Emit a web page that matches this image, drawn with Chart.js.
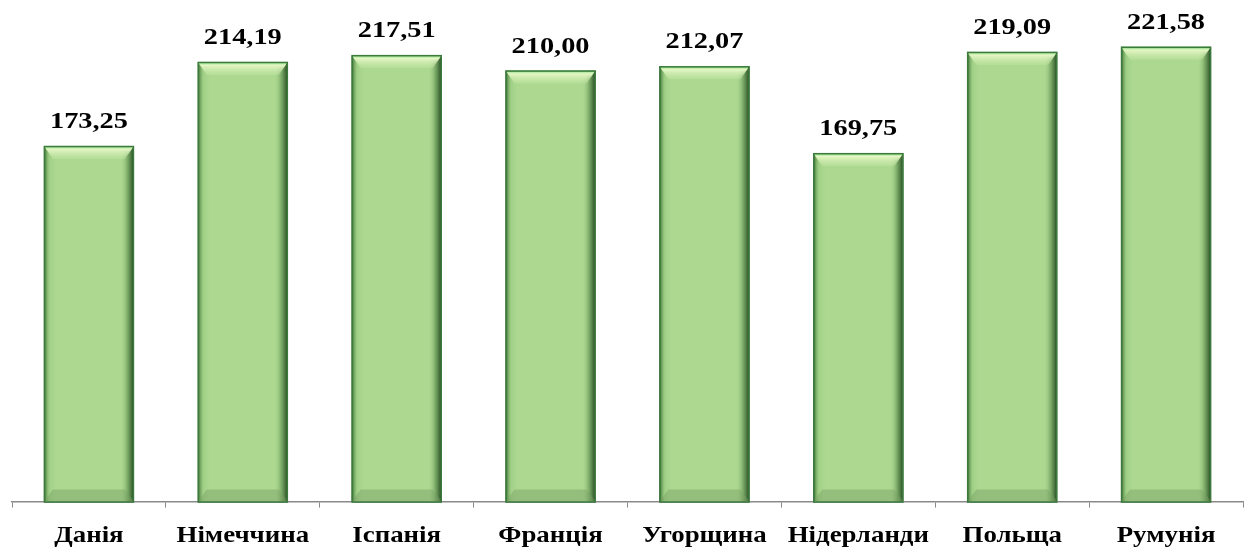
<!DOCTYPE html>
<html>
<head>
<meta charset="utf-8">
<script src="https://cdn.jsdelivr.net/npm/chart.js@4.4.1/dist/chart.umd.min.js"></script>
<style>
  html, body { margin: 0; padding: 0; background: #fff; }
  #wrap { width: 1251px; height: 550px; }
</style>
</head>
<body>
<div id="wrap"><canvas id="c"></canvas></div>
<script>
// Дані діаграми
const countries = ['Данія', 'Німеччина', 'Іспанія', 'Франція', 'Угорщина', 'Нідерланди', 'Польща', 'Румунія'];
const values = [173.25, 214.19, 217.51, 210.00, 212.07, 169.75, 219.09, 221.58];

const fmt = (v) => v.toFixed(2).replace('.', ',');
const SERIF = "'Liberation Serif', 'Times New Roman', serif";

// текст в оригіналі трохи розтягнутий по горизонталі
function stretchedText(ctx, text, x, y, k) {
  ctx.save();
  ctx.translate(x, y);
  ctx.scale(k, 1);
  ctx.fillText(text, 0, 0);
  ctx.restore();
}

// об'ємний вигляд стовпчиків + підписи
const bevelPlugin = {
  id: 'bevel',
  afterDatasetsDraw(chart) {
    const ctx = chart.ctx;
    chart.getDatasetMeta(0).data.forEach((bar) => {
      const { x, y, base, width } = bar.getProps(['x', 'y', 'base', 'width'], true);
      const l = x - width / 2, r = x + width / 2;
      const b = 9;
      ctx.save();
      // бічні тіні
      const g = ctx.createLinearGradient(l, 0, r, 0);
      g.addColorStop(0, 'rgba(30,80,30,0.85)');
      g.addColorStop(0.06, 'rgba(120,180,100,0.25)');
      g.addColorStop(0.15, 'rgba(170,216,144,0)');
      g.addColorStop(0.85, 'rgba(170,216,144,0)');
      g.addColorStop(0.93, 'rgba(60,110,50,0.45)');
      g.addColorStop(1, 'rgba(25,60,25,0.95)');
      ctx.fillStyle = g;
      ctx.fillRect(l, y, width, base - y);
      // верхня фаска
      const gt = ctx.createLinearGradient(0, y, 0, y + b + 4);
      gt.addColorStop(0, '#7fdc7f');
      gt.addColorStop(0.25, '#e4f6c4');
      gt.addColorStop(1, 'rgba(200,234,170,0.3)');
      ctx.fillStyle = gt;
      ctx.beginPath();
      ctx.moveTo(l, y);
      ctx.lineTo(r, y);
      ctx.lineTo(r - b, y + b + 4);
      ctx.lineTo(l + b, y + b + 4);
      ctx.closePath();
      ctx.fill();
      // нижня фаска
      ctx.fillStyle = 'rgba(120,160,100,0.45)';
      ctx.beginPath();
      ctx.moveTo(l, base);
      ctx.lineTo(r, base);
      ctx.lineTo(r - b, base - b - 3);
      ctx.lineTo(l + b, base - b - 3);
      ctx.closePath();
      ctx.fill();
      // контур
      ctx.strokeStyle = '#3c7a3c';
      ctx.lineWidth = 1.5;
      ctx.strokeRect(l + 0.5, y + 0.5, width - 1, base - y);
      ctx.restore();
    });
  },
  afterDraw(chart) {
    const ctx = chart.ctx;
    const xs = chart.scales.x;
    ctx.save();
    ctx.fillStyle = '#000';
    ctx.textAlign = 'center';
    ctx.textBaseline = 'alphabetic';
    ctx.font = 'bold 24px ' + SERIF;
    chart.getDatasetMeta(0).data.forEach((bar, i) => {
      stretchedText(ctx, fmt(values[i]), bar.x, bar.y - 18, 1.18);
    });
    ctx.font = 'bold 24px ' + SERIF;
    xs.ticks.forEach((t, i) => {
      stretchedText(ctx, countries[i], xs.getPixelForTick(i), xs.top + 40, 1.12);
    });
    ctx.restore();
  },
};

new Chart(document.getElementById('c'), {
  type: 'bar',
  data: {
    labels: countries,
    datasets: [{
      data: values,
      backgroundColor: '#acd890',
      borderWidth: 0,
      barPercentage: 0.585,
      categoryPercentage: 1,
    }],
  },
  options: {
    responsive: true,
    maintainAspectRatio: false,
    animation: false,
    layout: { padding: { left: 12, right: 8, top: 9, bottom: 2 } },
    plugins: { legend: { display: false }, tooltip: { enabled: false } },
    scales: {
      x: {
        grid: { display: true, drawOnChartArea: false, offset: true, tickLength: 6, color: '#8a8a8a' },
        border: { color: '#8a8a8a', width: 1.5 },
        ticks: {
          color: 'rgba(0,0,0,0)', // підписи малюються плагіном
          padding: 7,
          font: { family: SERIF, size: 22, weight: 'bold' },
        },
      },
      y: { display: false, min: 0, max: 240 },
    },
  },
  plugins: [bevelPlugin],
});
</script>
</body>
</html>
